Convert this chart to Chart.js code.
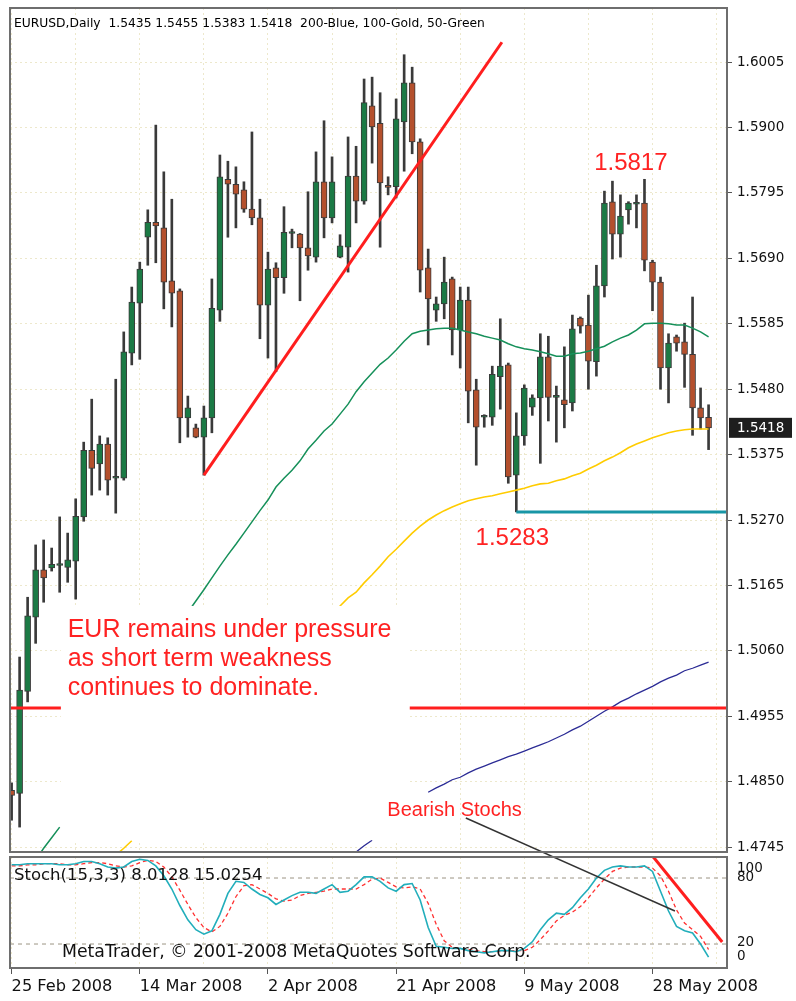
<!DOCTYPE html>
<html>
<head>
<meta charset="utf-8">
<script src="https://cdn.jsdelivr.net/npm/chart.js@4.4.1/dist/chart.umd.min.js"></script>
<style>
  html, body { margin: 0; padding: 0; background: #fff; }
  #wrap { position: relative; width: 796px; height: 1001px; overflow: hidden; }
  #main { position: absolute; left: 0; top: 0; }
  #stoch { position: absolute; left: 0; top: 855px; }
</style>
</head>
<body>
<div id="wrap">
  <canvas id="main" width="796" height="855"></canvas>
  <canvas id="stoch" width="796" height="146"></canvas>
</div>
<script>
// EURUSD daily candles, 25 Feb 2008 .. early Jun 2008 (MT4 also has Sunday bars)
const symbol = 'EURUSD';
const opens = [
  1.4836, 1.4831, 1.4995, 1.5114, 1.5190, 1.5193, 1.5197, 1.5194, 1.5204, 1.5275,
  1.5382, 1.5360, 1.5392, 1.5337, 1.5337, 1.5538, 1.5618, 1.5724, 1.5748, 1.5739,
  1.5654, 1.5638, 1.5434, 1.5418, 1.5403, 1.5434, 1.5607, 1.5817, 1.5809, 1.5800,
  1.5769, 1.5755, 1.5615, 1.5675, 1.5659, 1.5730, 1.5729, 1.5707, 1.5692, 1.5813,
  1.5755, 1.5692, 1.5708, 1.5822, 1.5782, 1.5935, 1.5907, 1.5805, 1.5805, 1.5909,
  1.5972, 1.5877, 1.5675, 1.5607, 1.5617, 1.5657, 1.5575, 1.5623, 1.5479, 1.5435,
  1.5435, 1.5500, 1.5519, 1.5342, 1.5405, 1.5451, 1.5466, 1.5532, 1.5467, 1.5463,
  1.5458, 1.5594, 1.5583, 1.5524, 1.5646, 1.5781, 1.5729, 1.5768, 1.5777, 1.5779,
  1.5684, 1.5652, 1.5514, 1.5564, 1.5556, 1.5536, 1.5450, 1.5435
];
const highs = [
  1.4848, 1.5050, 1.5146, 1.5230, 1.5238, 1.5225, 1.5275, 1.5249, 1.5304, 1.5395,
  1.5464, 1.5405, 1.5402, 1.5496, 1.5572, 1.5644, 1.5684, 1.5768, 1.5904, 1.5829,
  1.5785, 1.5641, 1.5469, 1.5424, 1.5453, 1.5657, 1.5856, 1.5846, 1.5837, 1.5813,
  1.5893, 1.5785, 1.5700, 1.5683, 1.5773, 1.5737, 1.5730, 1.5797, 1.5861, 1.5911,
  1.5853, 1.5728, 1.5885, 1.5870, 1.5978, 1.5981, 1.5956, 1.5821, 1.5946, 1.6017,
  1.5997, 1.5882, 1.5705, 1.5628, 1.5692, 1.5660, 1.5644, 1.5644, 1.5496, 1.5439,
  1.5517, 1.5593, 1.5522, 1.5442, 1.5487, 1.5471, 1.5569, 1.5565, 1.5485, 1.5548,
  1.5599, 1.5596, 1.5631, 1.5679, 1.5798, 1.5814, 1.5792, 1.5781, 1.5792, 1.5817,
  1.5687, 1.5660, 1.5569, 1.5567, 1.5586, 1.5628, 1.5482, 1.5455
];
const lows = [
  1.4788, 1.4777, 1.4978, 1.5072, 1.5138, 1.5188, 1.5154, 1.5170, 1.5143, 1.5268,
  1.5310, 1.5318, 1.5310, 1.5281, 1.5334, 1.5519, 1.5528, 1.5679, 1.5683, 1.5609,
  1.5580, 1.5394, 1.5403, 1.5402, 1.5342, 1.5410, 1.5589, 1.5724, 1.5739, 1.5764,
  1.5744, 1.5561, 1.5530, 1.5508, 1.5634, 1.5707, 1.5622, 1.5671, 1.5684, 1.5723,
  1.5747, 1.5691, 1.5668, 1.5747, 1.5777, 1.5843, 1.5708, 1.5792, 1.5787, 1.5830,
  1.5858, 1.5636, 1.5551, 1.5589, 1.5593, 1.5535, 1.5514, 1.5426, 1.5358, 1.5419,
  1.5422, 1.5448, 1.5329, 1.5283, 1.5390, 1.5438, 1.5361, 1.5429, 1.5395, 1.5418,
  1.5445, 1.5570, 1.5480, 1.5501, 1.5628, 1.5689, 1.5692, 1.5745, 1.5739, 1.5670,
  1.5606, 1.5480, 1.5458, 1.5541, 1.5483, 1.5406, 1.5416, 1.5383
];
const closes = [
  1.4828, 1.4997, 1.5116, 1.5190, 1.5177, 1.5199, 1.5198, 1.5206, 1.5276, 1.5382,
  1.5353, 1.5392, 1.5334, 1.5338, 1.5540, 1.5620, 1.5673, 1.5748, 1.5742, 1.5652,
  1.5634, 1.5434, 1.5450, 1.5403, 1.5434, 1.5610, 1.5821, 1.5809, 1.5793, 1.5769,
  1.5755, 1.5615, 1.5673, 1.5659, 1.5732, 1.5731, 1.5707, 1.5694, 1.5813, 1.5755,
  1.5813, 1.5710, 1.5822, 1.5782, 1.5940, 1.5901, 1.5811, 1.5804, 1.5914, 1.5972,
  1.5877, 1.5671, 1.5625, 1.5617, 1.5652, 1.5575, 1.5623, 1.5477, 1.5419, 1.5436,
  1.5504, 1.5517, 1.5339, 1.5405, 1.5482, 1.5466, 1.5532, 1.5467, 1.5468, 1.5455,
  1.5577, 1.5581, 1.5525, 1.5646, 1.5779, 1.5729, 1.5758, 1.5779, 1.5778, 1.5687,
  1.5652, 1.5514, 1.5554, 1.5554, 1.5536, 1.5450, 1.5434, 1.5418
];

// moving averages (null = not visible)
const ma50 = [
  null, null, null, 1.4724, 1.4743, 1.4760, 1.4777, null, null, null,
  null, null, null, null, null, null, null, null, null, null,
  null, null, 1.5122, 1.5140, 1.5158, 1.5177, 1.5196, 1.5214, 1.5231, 1.5249,
  1.5267, 1.5285, 1.5302, 1.5323, 1.5337, 1.5350, 1.5365, 1.5384, 1.5398, 1.5413,
  1.5424, 1.5440, 1.5456, 1.5476, 1.5492, 1.5506, 1.5520, 1.5530, 1.5543, 1.5557,
  1.5569, 1.5573, 1.5575, 1.5577, 1.5578, 1.5578, 1.5575, 1.5572, 1.5569, 1.5565,
  1.5562, 1.5559, 1.5553, 1.5548, 1.5545, 1.5543, 1.5540, 1.5537, 1.5533, 1.5533,
  1.5537, 1.5538, 1.5541, 1.5545, 1.5549, 1.5556, 1.5562, 1.5567, 1.5575, 1.5585,
  1.5586, 1.5586, 1.5585, 1.5583, 1.5583, 1.5578, 1.5572, 1.5564
];
const ma100 = [
  null, null, null, null, null, null, null, null, null, null,
  null, null, null, 1.4732, 1.4743, 1.4755, null, null, null, null,
  null, null, null, null, null, null, null, null, null, null,
  null, null, null, null, null, null, null, null, null, null,
  1.5119, 1.5132, 1.5145, 1.5154, 1.5169, 1.5182, 1.5196, 1.5211, 1.5223, 1.5236,
  1.5249, 1.5260, 1.5270, 1.5278, 1.5285, 1.5291, 1.5296, 1.5301, 1.5304, 1.5307,
  1.5309, 1.5312, 1.5315, 1.5318, 1.5321, 1.5325, 1.5328, 1.5329, 1.5333, 1.5336,
  1.5341, 1.5345, 1.5352, 1.5358, 1.5365, 1.5371, 1.5378, 1.5386, 1.5392, 1.5397,
  1.5402, 1.5406, 1.5410, 1.5413, 1.5415, 1.5416, 1.5416, 1.5416
];
const ma200 = [
  null, null, null, null, null, null, null, null, null, null,
  null, null, null, null, null, null, null, null, null, null,
  null, null, null, null, null, null, null, null, null, null,
  null, null, null, null, null, null, null, null, null, null,
  null, null, null, 1.4737, 1.4747, 1.4756, null, null, null, null,
  null, null, 1.4833, 1.4840, 1.4846, 1.4853, 1.4857, 1.4864, 1.4870, 1.4875,
  1.4880, 1.4885, 1.4890, 1.4894, 1.4899, 1.4904, 1.4909, 1.4914, 1.4920, 1.4926,
  1.4933, 1.4939, 1.4947, 1.4955, 1.4963, 1.4970, 1.4978, 1.4984, 1.4991, 1.4997,
  1.5003, 1.5010, 1.5016, 1.5021, 1.5028, 1.5032, 1.5037, 1.5042
];

// Stochastic(15,3,3): main line and signal line
const stochK = [
  92, 92, 93, 93, 93, 93, 92, 92, 93, 95,
  95, 93, 90, 89, 90, 95, 97, 96, 91, 82,
  70, 55, 42, 33, 29, 32, 47, 66, 77, 76,
  70, 65, 62, 56, 60, 64, 67, 67, 66, 70,
  74, 67, 68, 74, 81, 81, 77, 71, 68, 74,
  75, 60, 35, 18, 17, 16, 16, 14, 13, 12,
  13, 14, 14, 13, 16, 22, 33, 42, 48, 47,
  53, 62, 70, 80, 87, 90, 91, 90, 90, 91,
  86, 68, 50, 36, 32, 30, 20, 8.0128
];
const stochD = [
  91, 91, 92, 92, 93, 93, 93, 92, 92, 93,
  94, 94, 93, 91, 90, 91, 94, 96, 95, 90,
  81, 69, 56, 44, 35, 31, 36, 48, 63, 73,
  74, 70, 66, 61, 59, 60, 64, 66, 67, 68,
  70, 70, 70, 70, 74, 79, 80, 76, 72, 71,
  72, 70, 57, 38, 23, 17, 16, 15, 14, 13,
  13, 13, 14, 14, 14, 17, 24, 32, 41, 46,
  49, 54, 62, 71, 79, 86, 89, 90, 90, 90,
  89, 82, 68, 51, 39, 33, 27, 15.0254
];

const priceTicks = [1.4745, 1.4850, 1.4955, 1.5060, 1.5165, 1.5270, 1.5375,
                    1.5480, 1.5585, 1.5690, 1.5795, 1.5900, 1.6005];
const dateTicks = ['25 Feb 2008', '14 Mar 2008', '2 Apr 2008', '21 Apr 2008', '9 May 2008', '28 May 2008'];
const barsPerDateTick = 16;
const stochLevels = [20, 80];
const stochTickLabels = ['0', '20', '80', '100'];

// drawn objects on the price chart
const trendLine = [{x: 24, y: 1.5342}, {x: 61.2, y: 1.6037}];
const supportLevel = 1.4968;
const lowLevel = {from: 63, price: 1.5283};
const commentLines = ['EUR remains under pressure', 'as short term weakness', 'continues to dominate.'];

const X_MIN = -0.2, X_MAX = 89.3;
const n = closes.length;
const last = n - 1;

const GREEN = '#1b7a45', RED = '#b4502d', EDGE = '#3a3a3a';
const pts = arr => arr.map((v, i) => ({x: i, y: v}));

// axes must not reserve extra room for their labels
const noPad = s => { s.paddingTop = 0; s.paddingBottom = 0; s.paddingLeft = 0; s.paddingRight = 0; };

const gridX = {
  type: 'linear', min: X_MIN, max: X_MAX, offset: false,
  afterBuildTicks: s => { const t = []; for (let i = 0; i <= 88; i += 8) t.push({value: i}); s.ticks = t; },
  grid: { color: '#ede8cc', lineWidth: 1, drawTicks: false, offset: false },
  border: { display: false, dash: [2, 3] },
  ticks: { display: false }
};

// ---------- price chart ----------
const mainDecor = {
  id: 'mainDecor',
  afterDatasetsDraw(chart) {
    const {ctx, scales: {x, y}} = chart;
    ctx.save();
    // the comment sits on a white panel that hides the lines behind it
    const l = x.getPixelForValue(6.15), r = x.getPixelForValue(49.7);
    const t = y.getPixelForValue(1.5132), b = y.getPixelForValue(1.4756);
    ctx.fillStyle = '#fff';
    ctx.fillRect(l, t, r - l, b - t);

    ctx.fillStyle = '#ff2222';
    ctx.textBaseline = 'middle';
    ctx.textAlign = 'left';
    ctx.font = '25px "Liberation Sans"';
    commentLines.forEach((s, k) => ctx.fillText(s, x.getPixelForValue(7.0), y.getPixelForValue(1.5094) + k * 29));

    ctx.font = '24px "Liberation Sans"';
    ctx.textAlign = 'center';
    ctx.fillText(highs[79].toFixed(4), x.getPixelForValue(77.3), y.getPixelForValue(1.5842));
    ctx.fillText(lowLevel.price.toFixed(4), x.getPixelForValue(62.5), y.getPixelForValue(1.5241));

    ctx.font = '20px "Liberation Sans"';
    ctx.textAlign = 'left';
    ctx.fillText('Bearish Stochs', x.getPixelForValue(46.9), y.getPixelForValue(1.4803));
    ctx.restore();
  },
  afterDraw(chart) {
    const {ctx, chartArea: a, scales: {y}} = chart;
    ctx.save();
    ctx.strokeStyle = '#6e6e6e';
    ctx.lineWidth = 2;
    ctx.strokeRect(a.left, a.top, a.right - a.left, a.bottom - a.top);

    ctx.fillStyle = '#000';
    ctx.font = '12.3px "DejaVu Sans"';
    ctx.textBaseline = 'middle';
    const o = [opens[last], highs[last], lows[last], closes[last]].map(v => v.toFixed(4)).join(' ');
    ctx.fillText(symbol + ',Daily  ' + o + '  200-Blue, 100-Gold, 50-Green', 14, 24);

    // current price marker on the axis
    const py = y.getPixelForValue(closes[last]);
    ctx.fillStyle = '#1e1e1e';
    ctx.fillRect(729, py - 10, 63, 20);
    ctx.fillStyle = '#fff';
    ctx.font = '13.5px "DejaVu Sans"';
    ctx.fillText(closes[last].toFixed(4), 737, py + 1);
    ctx.restore();
  }
};

new Chart(document.getElementById('main'), {
  type: 'bar',
  data: {
    datasets: [
      { type: 'line', data: [{x: lowLevel.from, y: lowLevel.price}, {x: X_MAX, y: lowLevel.price}],
        borderColor: '#1896a6', borderWidth: 3, pointRadius: 0, order: 0 },
      { type: 'line', data: trendLine, borderColor: '#ff1e1e', borderWidth: 3, pointRadius: 0, order: 1 },
      { type: 'line', data: [{x: X_MIN, y: supportLevel}, {x: X_MAX, y: supportLevel}],
        borderColor: '#ff1e1e', borderWidth: 3, pointRadius: 0, order: 1 },
      { type: 'line', data: [{x: 56.7, y: 1.47916}, {x: 82.8, y: 1.46423}],
        borderColor: '#333', borderWidth: 1.5, pointRadius: 0, order: 1, clip: false },
      { type: 'line', label: 'MA200', data: pts(ma200), borderColor: '#2b2b95', borderWidth: 1.3,
        pointRadius: 0, spanGaps: false, order: 2 },
      { type: 'line', label: 'MA100', data: pts(ma100), borderColor: '#ffcc00', borderWidth: 1.6,
        pointRadius: 0, spanGaps: false, order: 2 },
      { type: 'line', label: 'MA50', data: pts(ma50), borderColor: '#16905a', borderWidth: 1.5,
        pointRadius: 0, spanGaps: false, order: 2 },
      { label: 'body', data: opens.map((o, i) => ({x: i, y: [o, closes[i]]})),
        backgroundColor: opens.map((o, i) => closes[i] >= o ? GREEN : RED),
        borderColor: EDGE, borderWidth: 1, borderSkipped: false, barThickness: 6,
        minBarLength: 2, grouped: false, order: 3 },
      { label: 'wick', data: lows.map((lo, i) => ({x: i, y: [lo, highs[i]]})),
        backgroundColor: EDGE, borderWidth: 0, barThickness: 2, grouped: false, order: 4 }
    ]
  },
  options: {
    responsive: false,
    animation: false,
    layout: { padding: { left: 10, top: 8, right: 0, bottom: 3 } },
    plugins: { legend: { display: false }, tooltip: { enabled: false } },
    scales: {
      x: Object.assign({}, gridX, { afterFit: s => { s.height = 0; noPad(s); } }),
      y: {
        type: 'linear', position: 'right', min: 1.4737, max: 1.6092,
        afterBuildTicks: s => { s.ticks = priceTicks.map(v => ({value: v})); },
        afterFit: s => { s.width = 69; noPad(s); },
        grid: { color: '#ede8cc', tickColor: '#555', tickLength: 5, lineWidth: 1 },
        border: { display: true, color: '#555', width: 2, dash: [2, 3] },
        ticks: { color: '#111', padding: 5, font: { family: 'DejaVu Sans', size: 13.5 },
                 callback: v => v.toFixed(4) }
      }
    }
  },
  plugins: [mainDecor]
});

// ---------- stochastic panel ----------
// label positions on the axis, as MetaTrader draws them inside the panel
const stochLabelAt = [8.2, 21.8, 80.9, 89.1];

const stochDecor = {
  id: 'stochDecor',
  afterDatasetsDraw(chart) {
    const {ctx} = chart;
    ctx.save();
    ctx.fillStyle = '#111';
    ctx.textBaseline = 'middle';
    ctx.font = '16.5px "DejaVu Sans"';
    ctx.fillText('Stoch(15,3,3) ' + stochK[last].toFixed(4) + ' ' + stochD[last].toFixed(4), 14, 21);
    ctx.font = '17.3px "DejaVu Sans"';
    ctx.fillText('MetaTrader, \u00a9 2001-2008 MetaQuotes Software Corp.', 62, 98);
    ctx.restore();
  },
  afterDraw(chart) {
    const {ctx, chartArea: a} = chart;
    ctx.save();
    ctx.strokeStyle = '#6e6e6e';
    ctx.lineWidth = 2;
    ctx.strokeRect(a.left, a.top, a.right - a.left, a.bottom - a.top);
    ctx.restore();
  }
};

new Chart(document.getElementById('stoch'), {
  type: 'line',
  data: {
    datasets: [
      ...stochLevels.map(v => ({ data: [{x: X_MIN, y: v}, {x: X_MAX, y: v}], borderColor: '#bdb8ad',
        borderWidth: 1.5, borderDash: [4, 4], pointRadius: 0, order: 5 })),
      { label: 'Signal', data: pts(stochD), borderColor: '#ff3030', borderWidth: 1.3, borderDash: [4, 3],
        pointRadius: 0, order: 3 },
      { label: 'Main', data: pts(stochK), borderColor: '#22aebb', borderWidth: 1.6, pointRadius: 0, order: 2 },
      { data: [{x: 56.7, y: 134.5}, {x: 82.8, y: 50}], borderColor: '#333', borderWidth: 1.5,
        pointRadius: 0, order: 1, clip: false },
      { data: [{x: 80, y: 100}, {x: 88.7, y: 21.8}], borderColor: '#ff1e1e', borderWidth: 3,
        pointRadius: 0, order: 0 }
    ]
  },
  options: {
    responsive: false,
    animation: false,
    layout: { padding: { left: 10, top: 2, right: 0, bottom: 0 } },
    plugins: { legend: { display: false }, tooltip: { enabled: false } },
    scales: {
      x: Object.assign({}, gridX, {
        afterFit: s => { s.height = 33; noPad(s); },
        grid: { color: '#ede8cc', lineWidth: 1, drawTicks: true, tickLength: 6, offset: false,
                tickColor: c => (c.tick && c.tick.value % barsPerDateTick === 0) ? '#555' : 'rgba(0,0,0,0)' },
        ticks: { display: true, align: 'start', maxRotation: 0, autoSkip: false, padding: 3, color: '#111',
                 font: { family: 'DejaVu Sans', size: 16.2 },
                 callback: v => v % barsPerDateTick === 0 ? (dateTicks[v / barsPerDateTick] || '') : '' }
      }),
      y: {
        type: 'linear', position: 'right', min: -1.8, max: 99.1,
        afterBuildTicks: s => { s.ticks = stochLabelAt.map(v => ({value: v})); },
        afterFit: s => { s.width = 69; noPad(s); },
        grid: { display: false, drawTicks: false },
        border: { display: true, color: '#555', width: 2 },
        ticks: { color: '#111', padding: 10, font: { family: 'DejaVu Sans', size: 13.5 },
                 callback: (v, i) => stochTickLabels[i] }
      }
    }
  },
  plugins: [stochDecor]
});
</script>
</body>
</html>
